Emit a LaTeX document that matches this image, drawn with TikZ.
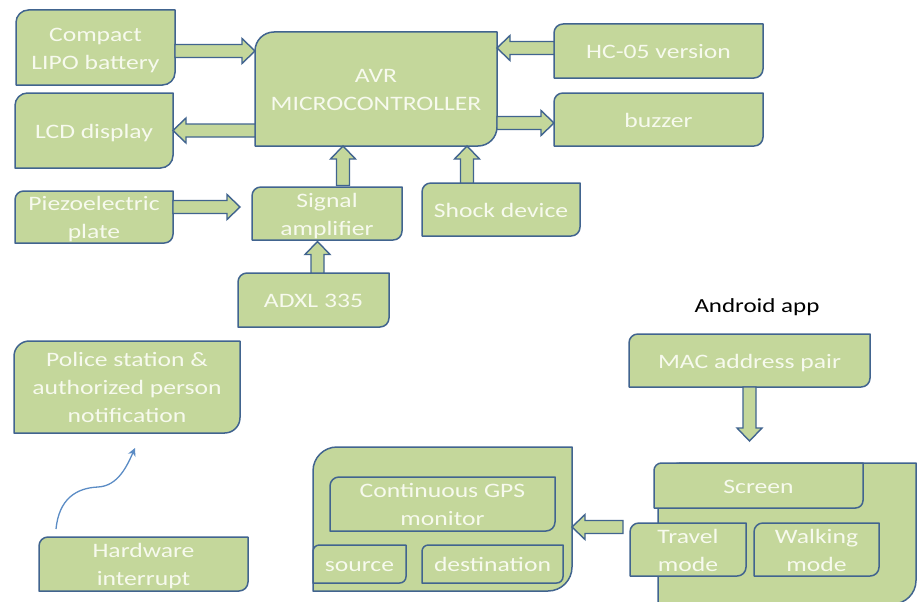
\documentclass[tikz,border=0pt]{standalone}
\usepackage{fontspec}
\setmainfont{Carlito}
\newfontfamily\boxfont{Carlito}[FakeStretch=1.25]
\usetikzlibrary{calc,arrows.meta}
\definecolor{gfill}{HTML}{C4D79B}
\definecolor{gline}{HTML}{41648F}
\definecolor{gtext}{HTML}{F7FAEE}
\definecolor{curvecol}{HTML}{5B8CC5}
\newcommand\arrsw{6.5pt}
\newcommand\arrhw{12.5pt}
\newcommand\arrhl{13pt}
\tikzset{
  boxshape/.style={fill=gfill, draw=gline, line width=1.5pt, line join=round},
  boxtext/.style={text=gtext, align=center, inner sep=0pt, outer sep=0pt,
    font=\boxfont\fontsize{20.5}{28}\selectfont},
  apptext/.style={text=black, inner sep=0pt, font=\boxfont\fontsize{20}{24}\selectfont},
  barrow/.style={fill=gfill, draw=gline, line width=1.4pt, line join=miter,
    to path={($(\tikztostart)!\arrsw!90:(\tikztotarget)$)
      -- ($(\tikztotarget)!\arrhl!(\tikztostart)!\arrsw!-90:(\tikztostart)$)
      -- ($(\tikztotarget)!\arrhl!(\tikztostart)!\arrhw!-90:(\tikztostart)$)
      -- (\tikztotarget)
      -- ($(\tikztotarget)!\arrhl!(\tikztostart)!\arrhw!90:(\tikztostart)$)
      -- ($(\tikztotarget)!\arrhl!(\tikztostart)!\arrsw!90:(\tikztostart)$)
      -- ($(\tikztostart)!\arrsw!-90:(\tikztotarget)$) -- cycle}},
  curvearrow/.style={draw=curvecol, line width=1.3pt, -{Stealth[length=8pt,width=8pt]}}
}
% #1 name, #2 x1, #3 y1, #4 x2, #5 y2, #6 text
\newcommand\gbox[6]{%
  \pgfmathsetlengthmacro\gboxr{0.1667*min(#4-#2,#5-#3)}%
  \coordinate (#1-a) at (#2,#3);
  \coordinate (#1-b) at (#4,#5);
  \draw[boxshape] (#1-a |- #1-b) -- ($(#1-a)+(0pt,-\gboxr)$)
    arc[start angle=180,end angle=90,radius=\gboxr] -- (#1-b |- #1-a)
    -- ($(#1-b)+(0pt,\gboxr)$) arc[start angle=0,end angle=-90,radius=\gboxr] -- cycle;
  \node[boxtext, minimum width={(#4-#2)*1pt}, minimum height={(#5-#3)*1pt}] (#1)
    at ({(#2+#4)/2},{(#3+#5)/2})
    {\raisebox{-2pt}[\height][\depth]{\begin{tabular}{@{}c@{}}#6\end{tabular}}};
}
\begin{document}
\begin{tikzpicture}[x=1pt,y=-1pt]
\useasboundingbox (0,0) rectangle (918,602);
\fill[white] (0,0) rectangle (918,602);
\clip (0,0) rectangle (918,602);

\gbox{batt}{16}{10}{175}{85}{Compact\\LIPO battery}
\gbox{lcd}{15}{93}{173}{168}{LCD display}
\gbox{piezo}{15}{191}{173}{243}{Piezoelectric\\plate}
\gbox{avr}{255}{32}{497}{146}{AVR\\MICROCONTROLLER}
\gbox{hc}{554}{24}{763}{78}{HC-05 version}
\gbox{buzzer}{554}{93}{763}{146}{buzzer}
\gbox{sig}{252}{187}{402}{240}{Signal\\amplifier}
\gbox{shock}{422}{183}{580}{236}{Shock device}
\gbox{adxl}{238}{273}{389}{327}{ADXL 335}
\gbox{police}{14}{341}{240}{433}{Police station \&\\authorized person\\notification}
\gbox{hw}{39}{537}{248}{591}{Hardware\\interrupt}
\gbox{gps}{313}{447}{572}{591}{}
\gbox{mon}{330}{477}{555}{531}{Continuous GPS\\monitor}
\gbox{src}{313}{545}{406}{583}{source}
\gbox{dst}{422}{545}{563}{583}{destination}
\gbox{mac}{629}{334}{870}{387}{MAC address pair}
\gbox{app}{658}{463}{916}{604}{}
\gbox{scr}{654}{463}{863}{508}{Screen}
\gbox{trv}{630}{523}{746}{576}{Travel\\mode}
\gbox{wlk}{754}{523}{879}{576}{Walking\\mode}

\node[apptext] (android) at (757,307) {Android app};

% block arrows
\coordinate (battout) at ($(batt.east)+(0pt,-3.5pt)$);
\coordinate (avrpow) at (avr.west |- battout);
\draw[barrow] (battout) to (avrpow);

\coordinate (avrlcd) at (avr.west |- lcd.east);
\draw[barrow] (avrlcd) to (lcd.east);

\coordinate (piezoout) at ($(piezo.east)+(0pt,10pt)$);
\coordinate (sigin) at ($(sig.west)+(-12pt,6.5pt)$);
\draw[barrow] (piezoout) to (sigin);

\coordinate (hcout) at ($(hc.west)+(0pt,3pt)$);
\coordinate (avrhc) at (avr.east |- hcout);
\draw[barrow] (hcout) to (avrhc);

\coordinate (buzin) at ($(buzzer.west)+(0pt,-3.5pt)$);
\coordinate (avrbuz) at (avr.east |- buzin);
\draw[barrow] (avrbuz) to (buzin);

\coordinate (sigout) at ($(sig.north)+(16pt,0pt)$);
\coordinate (avrsig) at (sigout |- avr.south);
\draw[barrow] (sigout) to (avrsig);

\coordinate (shockout) at ($(shock.north)+(-34pt,0pt)$);
\coordinate (avrshock) at (shockout |- avr.south);
\draw[barrow] (shockout) to (avrshock);

\coordinate (adxlout) at ($(adxl.north)+(4pt,0pt)$);
\coordinate (sigadxl) at (adxlout |- sig.south);
\draw[barrow] (adxlout) to (sigadxl);

\coordinate (macdown) at ($(mac.south)+(0pt,-54pt)$);
\draw[barrow] (mac.south) to (macdown);

\coordinate (scrout) at (623,527);
\coordinate (gpsin) at ($(gps.east)+(0pt,-8pt)$);
\draw[barrow] (scrout) to (gpsin);

% curved arrow
\coordinate (cs) at ($(hw.north west)+(17pt,7pt)$);
\coordinate (cm) at (98,487);
\coordinate (ce) at ($(police.south west)+(121pt,-15pt)$);
\draw[curvearrow] (cs) .. controls +(3,-30) and +(-22,1) .. (cm)
  .. controls +(20,-1) and +(-8,18) .. (ce);
\end{tikzpicture}
\end{document}
